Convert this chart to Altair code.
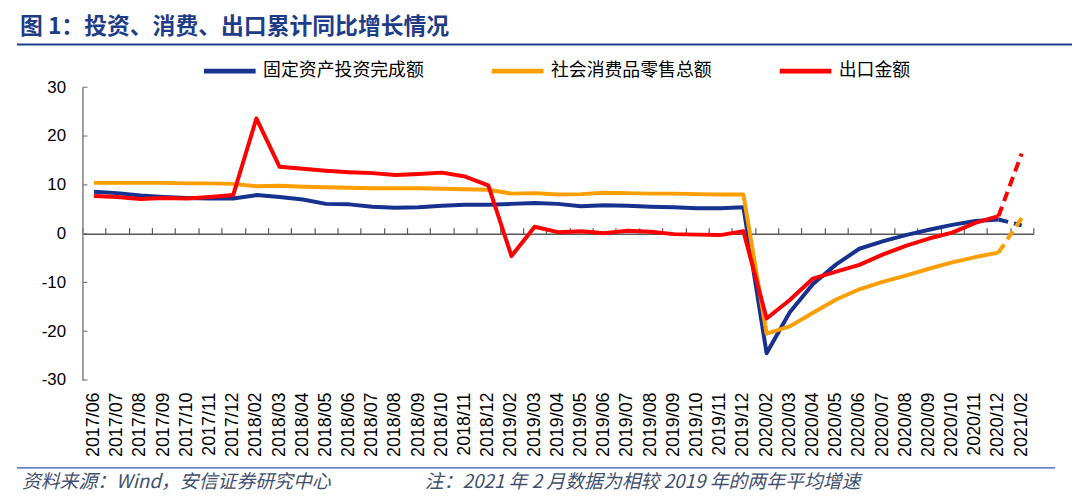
import altair as alt
import pandas as pd

dates = [
    "2017/06", "2017/07", "2017/08", "2017/09", "2017/10", "2017/11", "2017/12",
    "2018/02", "2018/03", "2018/04", "2018/05", "2018/06", "2018/07", "2018/08",
    "2018/09", "2018/10", "2018/11", "2018/12",
    "2019/02", "2019/03", "2019/04", "2019/05", "2019/06", "2019/07", "2019/08",
    "2019/09", "2019/10", "2019/11", "2019/12",
    "2020/02", "2020/03", "2020/04", "2020/05", "2020/06", "2020/07", "2020/08",
    "2020/09", "2020/10", "2020/11", "2020/12",
    "2021/02",
]

series_names = ["固定资产投资完成额", "社会消费品零售总额", "出口金额"]

fai = [8.6, 8.3, 7.8, 7.5, 7.3, 7.2, 7.2,
       7.9, 7.5, 7.0, 6.1, 6.0, 5.5, 5.3, 5.4, 5.7, 5.9, 5.9,
       6.1, 6.3, 6.1, 5.6, 5.8, 5.7, 5.5, 5.4, 5.2, 5.2, 5.4,
       -24.5, -16.1, -10.3, -6.3, -3.1, -1.6, -0.3, 0.8, 1.8, 2.6, 2.9,
       1.7]

retail = [10.4, 10.4, 10.4, 10.4, 10.3, 10.3, 10.2,
          9.7, 9.8, 9.6, 9.5, 9.4, 9.3, 9.3, 9.3, 9.2, 9.1, 9.0,
          8.2, 8.3, 8.0, 8.1, 8.4, 8.3, 8.2, 8.2, 8.1, 8.0, 8.0,
          -20.5, -19.0, -16.2, -13.5, -11.4, -9.9, -8.6, -7.2, -5.9, -4.8, -3.9,
          3.2]

export = [7.7, 7.5, 7.1, 7.3, 7.2, 7.5, 7.9,
          23.6, 13.7, 13.3, 12.9, 12.6, 12.4, 12.0, 12.2, 12.5, 11.7, 9.9,
          -4.6, 1.4, 0.3, 0.5, 0.1, 0.6, 0.4, -0.1, -0.2, -0.3, 0.5,
          -17.4, -13.6, -9.2, -7.8, -6.4, -4.3, -2.5, -1.0, 0.2, 2.2, 3.6,
          16.4]

colors = ["#17318F", "#FF9E00", "#FF0000"]
y_ticks = [-30, -20, -10, 0, 10, 20, 30]

title_text = "图 1：投资、消费、出口累计同比增长情况"
source_text = "资料来源：Wind，安信证券研究中心"
note_text = "注：2021 年 2 月数据为相较 2019 年的两年平均增速"

solid_rows, dash_rows = [], []
n = len(dates)
for name, vals in zip(series_names, [fai, retail, export]):
    for i, (d, v) in enumerate(zip(dates, vals)):
        if i <= n - 2:
            solid_rows.append({"date": d, "series": name, "value": v})
        if i >= n - 2:
            dash_rows.append({"date": d, "series": name, "value": v})
solid_df = pd.DataFrame(solid_rows)
dash_df = pd.DataFrame(dash_rows)
tick_df = pd.DataFrame({"value": y_ticks})

W, H = 958, 295

x_scale = alt.Scale(type="band", domain=dates, paddingInner=0, paddingOuter=0)
y_scale = alt.Scale(domain=[-30, 30], nice=False, zero=False)
color_scale = alt.Scale(domain=series_names, range=colors)

x_bottom = alt.X("date:N", scale=x_scale, bandPosition=0.5, title=None,
                 axis=alt.Axis(orient="bottom", domain=False, ticks=False,
                               labelAngle=270, labelFont="Liberation Sans",
                               labelFontSize=18, labelColor="#000000",
                               labelPadding=12, labelOverlap=False))
x_top = alt.X("date:N", scale=x_scale, bandPosition=0.5, title=None,
              axis=alt.Axis(orient="top", offset=-H / 2, labels=False,
                            domainColor="#595959", domainWidth=1.5,
                            tickColor="#595959", tickSize=6, tickWidth=1.2,
                            tickBand="extent"))
x_none = alt.X("date:N", scale=x_scale, bandPosition=0.5, title=None, axis=None)

y_enc = alt.Y("value:Q", scale=y_scale, title=None,
              axis=alt.Axis(values=y_ticks, ticks=False, grid=False,
                            domainColor="#7F7F7F", domainWidth=1.5,
                            labelExpr="'' + datum.value",
                            labelFont="Liberation Sans", labelFontSize=17,
                            labelColor="#000000", labelPadding=17))

zero_axis = alt.Chart(solid_df).mark_point(opacity=0).encode(x=x_top)

ytick_layer = alt.Chart(tick_df).mark_rule(color="#7F7F7F", strokeWidth=1.2).encode(
    y=y_enc, x=alt.value(0), x2=alt.value(5))

solid = alt.Chart(solid_df).mark_line(strokeWidth=4, strokeJoin="round").encode(
    x=x_bottom, y=y_enc,
    color=alt.Color("series:N", scale=color_scale, sort=series_names,
                    legend=alt.Legend(title=None, orient="none", legendX=120, legendY=-45,
                                      direction="horizontal", symbolType="stroke",
                                      symbolSize=2704, symbolStrokeWidth=5,
                                      labelFont="Noto Sans CJK SC", labelFontSize=18,
                                      labelColor="#000000", labelOffset=5,
                                      labelLimit=400, columnPadding=58, padding=0)))

dashed = alt.Chart(dash_df).mark_line(strokeWidth=4, strokeDash=[10, 6]).encode(
    x=x_none, y=y_enc,
    color=alt.Color("series:N", scale=color_scale, legend=None))

one = pd.DataFrame({"a": [0]})
title = alt.Chart(pd.DataFrame({"t": [title_text]})).mark_text(
    align="left", baseline="middle", font="Noto Sans CJK SC", fontSize=23,
    fontWeight="bold", color="#1F3C88").encode(
    x=alt.value(-63), y=alt.value(-61), text="t:N")
title_rule = alt.Chart(one).mark_rule(color="#1F3C88", strokeWidth=2).encode(
    x=alt.value(-66), x2=alt.value(997), y=alt.value(-43))
foot_rule = alt.Chart(one).mark_rule(color="#2F54A8", strokeWidth=1.5).encode(
    x=alt.value(-66), x2=alt.value(980), y=alt.value(383.5))
source = alt.Chart(pd.DataFrame({"t": [source_text]})).mark_text(
    align="left", baseline="middle", font="Noto Sans CJK SC", fontSize=19,
    fontStyle="italic", color="#3F4F6F").encode(
    x=alt.value(-61), y=alt.value(398), text="t:N")
note = alt.Chart(pd.DataFrame({"t": [note_text]})).mark_text(
    align="left", baseline="middle", font="Noto Sans CJK SC", fontSize=19,
    fontStyle="italic", color="#3F4F6F").encode(
    x=alt.value(345), y=alt.value(398), text="t:N")

chart = alt.layer(
    zero_axis, ytick_layer, solid, dashed, title, title_rule, foot_rule, source, note
).resolve_axis(x="independent").properties(
    width=W, height=H, autosize="none",
    padding={"left": 75, "top": 78, "right": 39, "bottom": 115},
).configure_view(stroke=None)

chart.save("out.html", embed_options={"renderer": "svg", "actions": False})
